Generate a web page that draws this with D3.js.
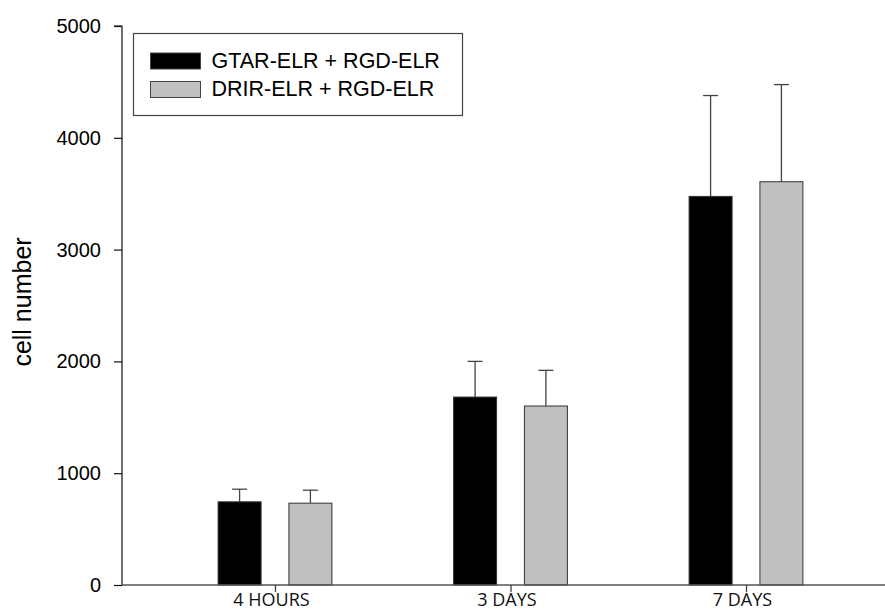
<!DOCTYPE html>
<html>
<head>
<meta charset="utf-8">
<script src="https://cdn.jsdelivr.net/npm/d3@7"></script>
<style>
  html, body { margin: 0; padding: 0; background: #fff; }
  svg { display: block; }
</style>
</head>
<body>
<div id="chart"></div>
<script>
// Cell counts per time point for the two ELR combinations (mean and SD)
const categories = ["4 HOURS", "3 DAYS", "7 DAYS"];
const seriesNames = ["GTAR-ELR + RGD-ELR", "DRIR-ELR + RGD-ELR"];
const gtarMean = [744, 1681, 3476];
const gtarSD = [113, 319, 902];
const drirMean = [732, 1601, 3607];
const drirSD = [116, 319, 869];
const yTicks = [0, 1000, 2000, 3000, 4000, 5000];
const seriesColors = ["#000000", "#c0c0c0"];

const width = 885, height = 611;
const svg = d3.select("#chart").append("svg")
  .attr("width", width).attr("height", height);

const y = d3.scaleLinear().domain([0, 5000]).range([585, 26]);
const x = d3.scalePoint().domain(categories).range([275, 746]);
const xSub = d3.scaleBand().domain(seriesNames).range([-56.9, 56.9]).paddingInner(0.393).paddingOuter(0);

const series = [
  { name: seriesNames[0], mean: gtarMean, sd: gtarSD, color: seriesColors[0] },
  { name: seriesNames[1], mean: drirMean, sd: drirSD, color: seriesColors[1] }
];

const arialStack = "'Liberation Sans', Arial, sans-serif";

// Error bars (upper whisker only), drawn beneath bars
series.forEach(s => {
  const g = svg.append("g");
  categories.forEach((c, i) => {
    const cx = x(c) + xSub(s.name) + xSub.bandwidth() / 2;
    const top = y(s.mean[i] + s.sd[i]);
    g.append("line")
      .attr("x1", cx).attr("x2", cx)
      .attr("y1", y(s.mean[i])).attr("y2", top)
      .attr("stroke", "#444").attr("stroke-width", 1.3);
    g.append("line")
      .attr("x1", cx - 7.5).attr("x2", cx + 7.5)
      .attr("y1", top).attr("y2", top)
      .attr("stroke", "#444").attr("stroke-width", 1.3);
  });
});

// Bars
series.forEach(s => {
  svg.append("g").selectAll("rect")
    .data(categories)
    .join("rect")
    .attr("x", (c) => x(c) + xSub(s.name))
    .attr("width", xSub.bandwidth())
    .attr("y", (c, i) => y(s.mean[i]))
    .attr("height", (c, i) => y(0) - y(s.mean[i]))
    .attr("fill", s.color)
    .attr("stroke", "#333")
    .attr("stroke-width", 1);
});

// Y axis
const yAxis = d3.axisLeft(y).tickValues(yTicks).tickSize(8).tickPadding(13).tickFormat(d3.format("d"));
const gy = svg.append("g").attr("transform", "translate(122,0)").call(yAxis);
gy.select(".domain").attr("stroke", "#111").attr("stroke-width", 1.2).attr("d", `M-8,${y(5000)}H0V${y(0)}`);
gy.selectAll(".tick line").attr("stroke", "#111").attr("stroke-width", 1.2);
gy.selectAll(".tick text")
  .attr("font-family", arialStack).attr("font-size", 20).attr("fill", "#000");

// X axis: baseline across the plot, category ticks below
const gx = svg.append("g").attr("transform", `translate(0,${y(0)})`)
  .call(d3.axisBottom(x).tickSize(7).tickPadding(0));
gx.select(".domain").attr("stroke", "#555").attr("stroke-width", 1.3).attr("d", `M122,0H${width}`);
gx.selectAll(".tick line").attr("stroke", "#444").attr("stroke-width", 1.3);
gx.selectAll(".tick text")
  .attr("font-family", "'Open Sans', sans-serif").attr("font-size", 18)
  .attr("fill", "#111").attr("dy", null).attr("y", 21).attr("x", -4);

// Y axis title
svg.append("text")
  .attr("transform", "translate(31,302) rotate(-90)")
  .attr("text-anchor", "middle")
  .attr("font-family", arialStack).attr("font-size", 25).attr("fill", "#000")
  .text("cell number");

// Legend
const legend = svg.append("g");
legend.append("rect")
  .attr("x", 133.5).attr("y", 33.5).attr("width", 329).attr("height", 82)
  .attr("fill", "#fff").attr("stroke", "#444").attr("stroke-width", 1.2);
series.forEach((s, i) => {
  const yy = 53 + i * 28.5;
  legend.append("rect")
    .attr("x", 150.5).attr("y", yy).attr("width", 50).attr("height", 16)
    .attr("fill", s.color).attr("stroke", "#444").attr("stroke-width", 1);
  legend.append("text")
    .attr("x", 211.5).attr("y", yy + 14.5)
    .attr("font-family", arialStack).attr("font-size", 21.5).attr("fill", "#000")
    .text(s.name);
});
</script>
</body>
</html>
